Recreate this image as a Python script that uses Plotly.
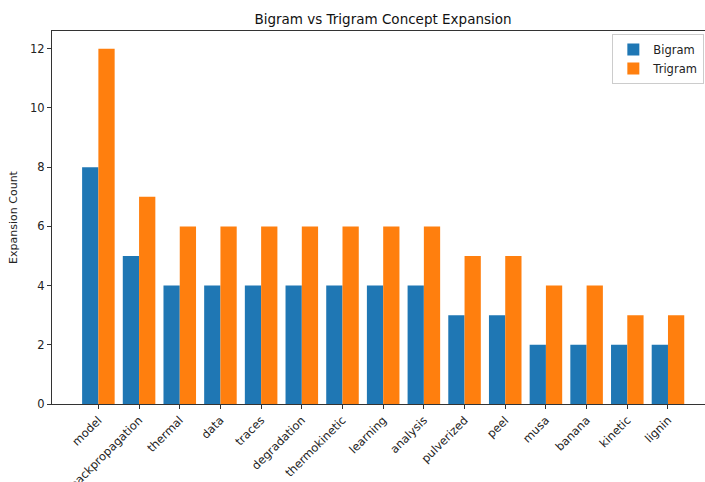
import plotly.graph_objects as go

terms = ["model", "backpropagation", "thermal", "data", "traces", "degradation",
         "thermokinetic", "learning", "analysis", "pulverized", "peel", "musa",
         "banana", "kinetic", "lignin"]
bigram = [8, 5, 4, 4, 4, 4, 4, 4, 4, 3, 3, 2, 2, 2, 2]
trigram = [12, 7, 6, 6, 6, 6, 6, 6, 6, 5, 5, 4, 4, 3, 3]
y_ticks = [0, 2, 4, 6, 8, 10, 12]

pos = list(range(len(terms)))
font = "DejaVu Sans, Arial, sans-serif"

fig = go.Figure()
fig.add_trace(go.Bar(x=pos, y=bigram, name="Bigram", marker_color="#1f77b4",
                     marker_line_width=0))
fig.add_trace(go.Bar(x=pos, y=trigram, name="Trigram", marker_color="#ff7f0e",
                     marker_line_width=0))

fig.update_layout(
    width=705, height=482,
    margin=dict(l=52, r=0, t=31, b=78, autoexpand=False),
    paper_bgcolor="white", plot_bgcolor="white",
    barmode="group", bargap=0.2, bargroupgap=0,
    font=dict(family=font, size=11, color="#222"),
    title=dict(text="Bigram vs Trigram Concept Expansion", x=(383 / 705),
               xanchor="center", y=1 - 19 / 482, yanchor="middle",
               font=dict(size=13.5, color="#111")),
    legend=dict(x=0.999, y=0.992, xanchor="right", yanchor="top",
                bordercolor="#cccccc", borderwidth=1, bgcolor="white",
                font=dict(size=11.5), tracegroupgap=0, itemwidth=30),
)
fig.update_xaxes(
    tickmode="array", tickvals=pos, ticktext=terms, tickangle=-45,
    range=[-1.14, 14.91], showgrid=False, zeroline=False, automargin=False,
    showline=True, linecolor="#333", linewidth=1, mirror=True,
    ticks="outside", ticklen=4, tickcolor="#333",
    tickfont=dict(size=11.5),
)
fig.update_yaxes(
    tickmode="array", tickvals=y_ticks, range=[0, 12.6], automargin=False,
    showgrid=False, zeroline=False, showline=True, linecolor="#333",
    linewidth=1, ticks="outside", ticklen=4, tickcolor="#333",
    tickfont=dict(size=11.5),
    title=dict(text="Expansion Count", font=dict(size=11), standoff=10),
)

fig.write_html("out.html")
